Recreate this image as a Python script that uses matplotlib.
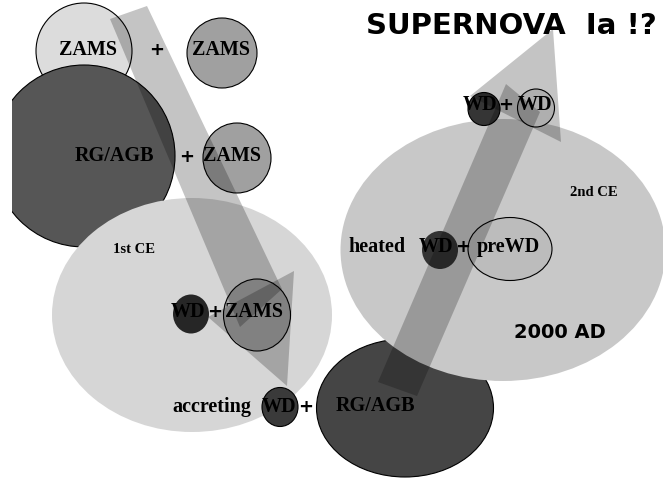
import numpy as np
import matplotlib
matplotlib.use('Agg')
import matplotlib.pyplot as plt
from matplotlib.patches import Ellipse, Polygon, Rectangle

# stars / envelopes, in drawing order: centre x, centre y, width, height (pixels), grey fill
body_name = ['ZAMS1a', 'RGAGB1', 'ZAMS1b', 'ZAMS2', 'CE1', 'RGAGB2', 'CE2',
             'WD1', 'ZAMS3', 'WDacc', 'WDheat', 'preWD', 'WDa', 'WDb']
body_x = [84, 84, 222, 237, 192, 405, 503, 191, 257, 280, 440, 510, 484, 536]
body_y = [52, 157, 54, 159, 316, 409, 251, 315, 316, 408, 251, 250, 110, 109]
body_w = [96, 182, 70, 68, 280, 177, 325, 36, 67, 36, 36, 84, 32, 37]
body_h = [96, 182, 70, 70, 234, 138, 262, 39, 72, 39, 38, 63, 33, 38]
body_fill = ['#dcdcdc', '#565656', '#a0a0a0', '#a0a0a0', '#d6d6d6', '#454545',
             '#c8c8c8', '#262626', '#a8a8a8', '#3a3a3a', '#333333', '#bcbcbc',
             '#353535', '#e4e4e4']
body_edge = [True, True, True, True, False, True, False,
             False, True, True, False, True, True, True]

# evolution arrows (shaft quad + head triangle)
shaft1 = [(110, 20), (147, 7), (282, 290), (240, 328)]
head1 = [(208, 318), (294, 272), (287, 387)]
shaft2 = [(378, 383), (417, 397), (540, 113), (506, 85)]
head2 = [(470, 97), (553, 30), (561, 143)]

# labels
lab_text = ['ZAMS', '+', 'ZAMS', 'RG/AGB', '+', 'ZAMS', 'WD', '+', 'ZAMS',
            'accreting', 'WD', '+', 'RG/AGB', 'heated', 'WD', '+', 'preWD',
            'WD', '+', 'WD']
lab_x = [88, 157, 221, 114, 187, 232, 188, 215, 254, 212, 279, 306, 375,
         377, 436, 463, 508, 480, 506, 535]
lab_y = [50, 50, 50, 156, 157, 156, 312, 312, 312, 407, 407, 407, 406,
         247, 247, 247, 247, 105, 105, 105]
small_text = ['1st CE', '2nd CE']
small_x = [134, 594]
small_y = [250, 193]

fig = plt.figure(figsize=(6.63, 4.81), dpi=100)
ax = fig.add_axes([0, 0, 1, 1])
ax.set_xlim(0, 663)
ax.set_ylim(481, 0)
ax.axis('off')

clip = Rectangle((12, 0), 651, 481, transform=ax.transData)
for i in range(len(body_name)):
    e = Ellipse((body_x[i], body_y[i]), body_w[i], body_h[i],
                facecolor=body_fill[i],
                edgecolor='black' if body_edge[i] else 'none',
                lw=0.8, zorder=2 + i * 0.01)
    ax.add_patch(e)
    if body_name[i] == 'RGAGB1':
        e.set_clip_path(clip)

for pts in (shaft1, head1, shaft2, head2):
    ax.add_patch(Polygon(pts, closed=True, facecolor='black', alpha=0.23,
                         edgecolor='none', zorder=5))

for t, x, y in zip(lab_text, lab_x, lab_y):
    if t == '+':
        ax.text(x, y, t, ha='center', va='center', fontsize=13,
                fontweight='bold', family='DejaVu Sans', zorder=6)
    else:
        ax.text(x, y, t, ha='center', va='center', fontsize=14.5,
                fontweight='bold', family='Liberation Serif', zorder=6)
for t, x, y in zip(small_text, small_x, small_y):
    ax.text(x, y, t, ha='center', va='center', fontsize=10.5,
            fontweight='bold', family='Liberation Serif', zorder=6)

ax.text(511, 26, 'SUPERNOVA  Ia !?', ha='center', va='center', fontsize=21,
        fontweight='bold', family='DejaVu Sans', zorder=6)
ax.text(560, 333, '2000 AD', ha='center', va='center', fontsize=14,
        fontweight='bold', family='DejaVu Sans', zorder=6)

plt.savefig('out.png', dpi=100)
